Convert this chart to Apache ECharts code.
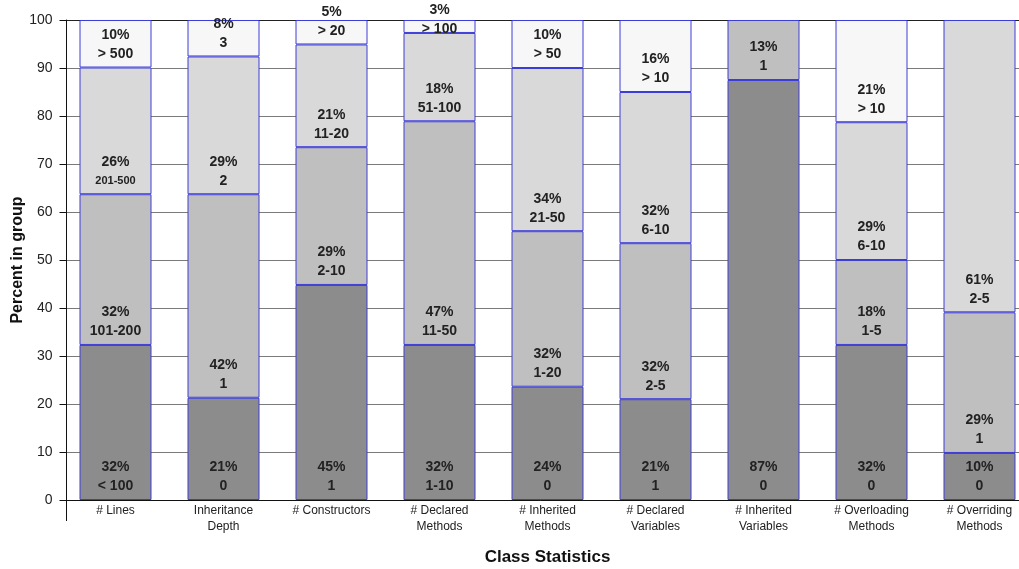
<!DOCTYPE html>
<html>
<head>
<meta charset="utf-8">
<script src="https://cdn.jsdelivr.net/npm/echarts@6/dist/echarts.min.js"></script>
<style>
  html, body { margin: 0; padding: 0; background: #fff; }
  #chart { width: 1019px; height: 569px; }
</style>
</head>
<body>
<div id="chart"></div>
<script>
const categories = ['# Lines', 'Inheritance\nDepth', '# Constructors', '# Declared\nMethods', '# Inherited\nMethods',
  '# Declared\nVariables', '# Inherited\nVariables', '# Overloading\nMethods', '# Overriding\nMethods'];

// segment heights, bottom to top
const seg1 = [32.3, 21.3, 44.8, 32.3, 23.6, 21.0, 87.5, 32.3, 9.8];
const seg2 = [31.4, 42.4, 28.7, 46.6, 32.4, 32.5, 12.5, 17.7, 29.3];
const seg3 = [26.4, 28.7, 21.4, 18.4, 34.0, 31.5, null, 28.7, 60.9];
const seg4 = [9.9, 7.6, 5.1, 2.7, 10.0, 15.0, null, 21.3, null];

// texts shown in the segments
const pct1 = ['32%', '21%', '45%', '32%', '24%', '21%', '87%', '32%', '10%'];
const pct2 = ['32%', '42%', '29%', '47%', '32%', '32%', '13%', '18%', '29%'];
const pct3 = ['26%', '29%', '21%', '18%', '34%', '32%', '', '29%', '61%'];
const pct4 = ['10%', '8%', '5%', '3%', '10%', '16%', '', '21%', ''];
const range1 = ['< 100', '0', '1', '1-10', '0', '1', '0', '0', '0'];
const range2 = ['101-200', '1', '2-10', '11-50', '1-20', '2-5', '1', '1-5', '1'];
const range3 = ['201-500', '2', '11-20', '51-100', '21-50', '6-10', '', '6-10', '2-5'];
const range4 = ['> 500', '3', '> 20', '> 100', '> 50', '> 10', '', '> 10', ''];
const smallLabels = ['201-500'];

const yTicks = { min: 0, max: 100, interval: 10 };

const font = "'Liberation Sans', Arial, sans-serif";
const segColors = ['#8c8c8c', '#bfbfbf', '#d9d9d9', '#f7f7f7'];
const borderColor = '#3c3cd8';

const makeSeries = (data, pcts, ranges, i) => ({
  name: 'seg' + i,
  type: 'bar',
  stack: 'all',
  barWidth: 72,
  // very thin segments: let the text hang a bit below so it stays on the canvas
  data: data.map(v => v == null ? '-' : (v < 4 ? { value: v, label: { distance: -6 } } : v)),
  itemStyle: { color: segColors[i], borderColor: borderColor, borderWidth: 1 },
  label: {
    show: true,
    position: 'insideBottom',
    distance: 4,
    formatter: p => {
      const r = ranges[p.dataIndex];
      if (!pcts[p.dataIndex]) return '';
      const st = smallLabels.indexOf(r) >= 0 ? 's' : 'r';
      return '{p|' + pcts[p.dataIndex] + '}\n{' + st + '|' + r + '}';
    },
    rich: {
      p: { fontFamily: font, fontWeight: 'bold', fontSize: 14, lineHeight: 19, color: '#222' },
      r: { fontFamily: font, fontWeight: 'bold', fontSize: 14, lineHeight: 19, color: '#222' },
      s: { fontFamily: font, fontWeight: 'bold', fontSize: 11, lineHeight: 19, color: '#222' }
    }
  },
  emphasis: { disabled: true }
});

const chart = echarts.init(document.getElementById('chart'), null, { renderer: 'canvas' });

const gridColors = [];
for (let i = 0; i < 10; i++) gridColors.push('#7a7a7a');
gridColors.push('#222');

chart.setOption({
  animation: false,
  backgroundColor: '#fff',
  grid: { left: 61.5, right: -14.5, top: 20, bottom: 69, containLabel: false, outerBoundsMode: 'none' },
  xAxis: {
    type: 'category',
    data: categories,
    name: 'Class Statistics',
    nameLocation: 'middle',
    nameGap: 49,
    nameMoveOverlap: false,
    nameTextStyle: { fontFamily: font, fontWeight: 'bold', fontSize: 17, color: '#111' },
    axisLine: { lineStyle: { color: '#111', width: 1 } },
    axisTick: { show: false },
    axisLabel: { fontFamily: font, fontSize: 12, color: '#222', lineHeight: 16, margin: 3, interval: 0 }
  },
  yAxis: {
    type: 'value',
    min: yTicks.min,
    max: yTicks.max,
    interval: yTicks.interval,
    offset: -5,
    name: 'Percent in group',
    nameLocation: 'middle',
    nameGap: 41,
    nameMoveOverlap: false,
    nameTextStyle: { fontFamily: font, fontWeight: 'bold', fontSize: 16, color: '#111' },
    axisLine: { show: true, lineStyle: { color: '#111', width: 1 } },
    axisTick: { show: true, length: 7, lineStyle: { color: '#111' } },
    axisLabel: { fontFamily: font, fontSize: 14, color: '#222', margin: 14 },
    splitLine: { lineStyle: { color: gridColors, width: 1 } }
  },
  graphic: [{
    type: 'line',
    shape: { x1: 66.5, y1: 500, x2: 66.5, y2: 521 },
    style: { stroke: '#111', lineWidth: 1 }
  }],
  series: [
    makeSeries(seg1, pct1, range1, 0),
    makeSeries(seg2, pct2, range2, 1),
    makeSeries(seg3, pct3, range3, 2),
    makeSeries(seg4, pct4, range4, 3)
  ]
});
</script>
</body>
</html>
